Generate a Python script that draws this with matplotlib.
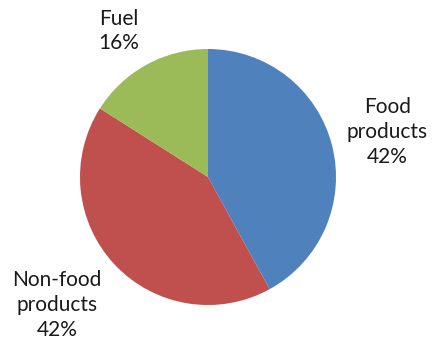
import matplotlib
matplotlib.use("Agg")
import matplotlib.pyplot as plt

# data
labels = ["Food\nproducts", "Non-food\nproducts", "Fuel"]
shares = [42, 42, 16]
colors = ["#4F81BD", "#C0504D", "#9BBB59"]
# where each label sits (axes data units, pie radius = 1)
label_pos = [(1.40, 0.35), (-1.18, -1.00), (-0.70, 1.14)]

W, H = 433, 345
fig = plt.figure(figsize=(W / 100, H / 100), dpi=100)
cx, cy, r = 208, 345 - 177, 128
ax = fig.add_axes([(cx - r) / W, (cy - r) / H, 2 * r / W, 2 * r / H])

ax.pie(shares, colors=colors, startangle=90, counterclock=False,
       radius=1, wedgeprops=dict(linewidth=0))

for lab, val, (x, y) in zip(labels, shares, label_pos):
    ax.text(x, y, f"{lab}\n{val}%", ha="center", va="center",
            fontsize=15, family="Lato", color="#1a1a1a", linespacing=1.3)

ax.set_xlim(-1, 1)
ax.set_ylim(-1, 1)
ax.set_aspect("equal")
ax.axis("off")

fig.savefig("out.png", dpi=100)
